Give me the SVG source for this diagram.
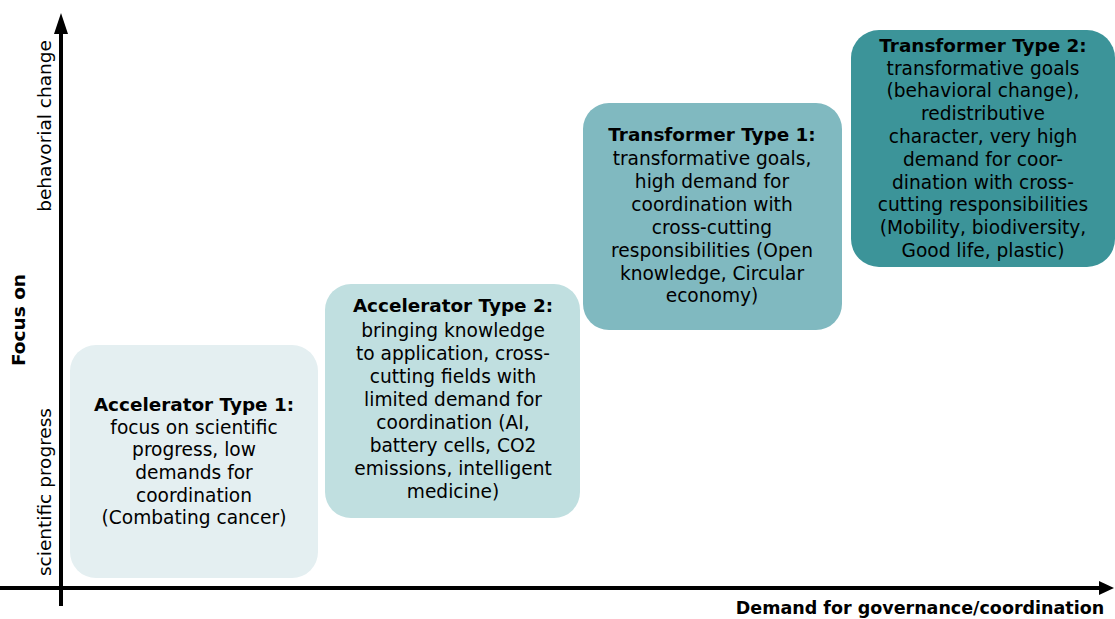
<svg xmlns="http://www.w3.org/2000/svg" width="1115" height="619" viewBox="0 0 1115 619">
<style>
.t{font-family:"DejaVu Sans","Liberation Sans",sans-serif;font-size:18.6px;fill:#000;text-anchor:middle}
.b{font-weight:bold;font-size:18.4px}
.ax{font-family:"DejaVu Sans","Liberation Sans",sans-serif;font-size:18.5px;fill:#000;text-anchor:middle}
.xb{font-weight:bold;font-size:17.5px}
</style>
<rect width="1115" height="619" fill="#fff"/>
<g id="connectors">
<line x1="61" y1="606" x2="61" y2="30" stroke="#000" stroke-width="4"/>
<path d="M61,13 L54,34 L68,34 z" fill="#000"/>
<line x1="0" y1="588" x2="1100" y2="588" stroke="#000" stroke-width="4"/>
<path d="M1114,588 L1099,581 L1099,595 z" fill="#000"/>
</g>
<g id="axis-labels">
<text class="ax" transform="translate(51,492) rotate(-90)">scientific progress</text>
<text class="ax b" transform="translate(25,320) rotate(-90)">Focus on</text>
<text class="ax" transform="translate(51,126) rotate(-90)">behavorial change</text>
<text class="ax xb" x="920" y="614">Demand for governance/coordination</text>
</g>
<g id="acc1">
<rect x="70" y="345" width="248" height="233" rx="26" fill="#e4eff1"/>
<text class="t"><tspan class="b" x="194" y="411">Accelerator Type 1:</tspan><tspan x="194" y="434">focus on scientific</tspan><tspan x="194" y="456">progress, low</tspan><tspan x="194" y="479">demands for</tspan><tspan x="194" y="502">coordination</tspan><tspan x="194" y="524">(Combating cancer)</tspan></text>
</g>
<g id="acc2">
<rect x="325" y="284" width="255" height="234" rx="26" fill="#c0dfe0"/>
<text class="t"><tspan class="b" x="453" y="312">Accelerator Type 2:</tspan><tspan x="453" y="337">bringing knowledge</tspan><tspan x="453" y="360">to application, cross-</tspan><tspan x="453" y="383">cutting fields with</tspan><tspan x="453" y="406">limited demand for</tspan><tspan x="453" y="429">coordination  (AI,</tspan><tspan x="453" y="452">battery cells, CO2</tspan><tspan x="453" y="475">emissions, intelligent</tspan><tspan x="453" y="498">medicine)</tspan></text>
</g>
<g id="trans1">
<rect x="583" y="103" width="259" height="227" rx="26" fill="#80b9c0"/>
<text class="t"><tspan class="b" x="712" y="141">Transformer Type 1:</tspan><tspan x="712" y="165">transformative  goals,</tspan><tspan x="712" y="188">high demand for</tspan><tspan x="712" y="211">coordination  with</tspan><tspan x="712" y="234">cross-cutting</tspan><tspan x="712" y="257">responsibilities  (Open</tspan><tspan x="712" y="280">knowledge, Circular</tspan><tspan x="712" y="302">economy)</tspan></text>
</g>
<g id="trans2">
<rect x="851" y="30" width="264" height="237" rx="28" fill="#3c9499"/>
<text class="t"><tspan class="b" x="983" y="52">Transformer Type 2:</tspan><tspan x="983" y="75">transformative  goals</tspan><tspan x="983" y="97">(behavioral change),</tspan><tspan x="983" y="120">redistributive</tspan><tspan x="983" y="143">character, very high</tspan><tspan x="983" y="166">demand for coor-</tspan><tspan x="983" y="189">dination with cross-</tspan><tspan x="983" y="211">cutting responsibilities</tspan><tspan x="983" y="234">(Mobility, biodiversity,</tspan><tspan x="983" y="257">Good life, plastic)</tspan></text>
</g>
</svg>
